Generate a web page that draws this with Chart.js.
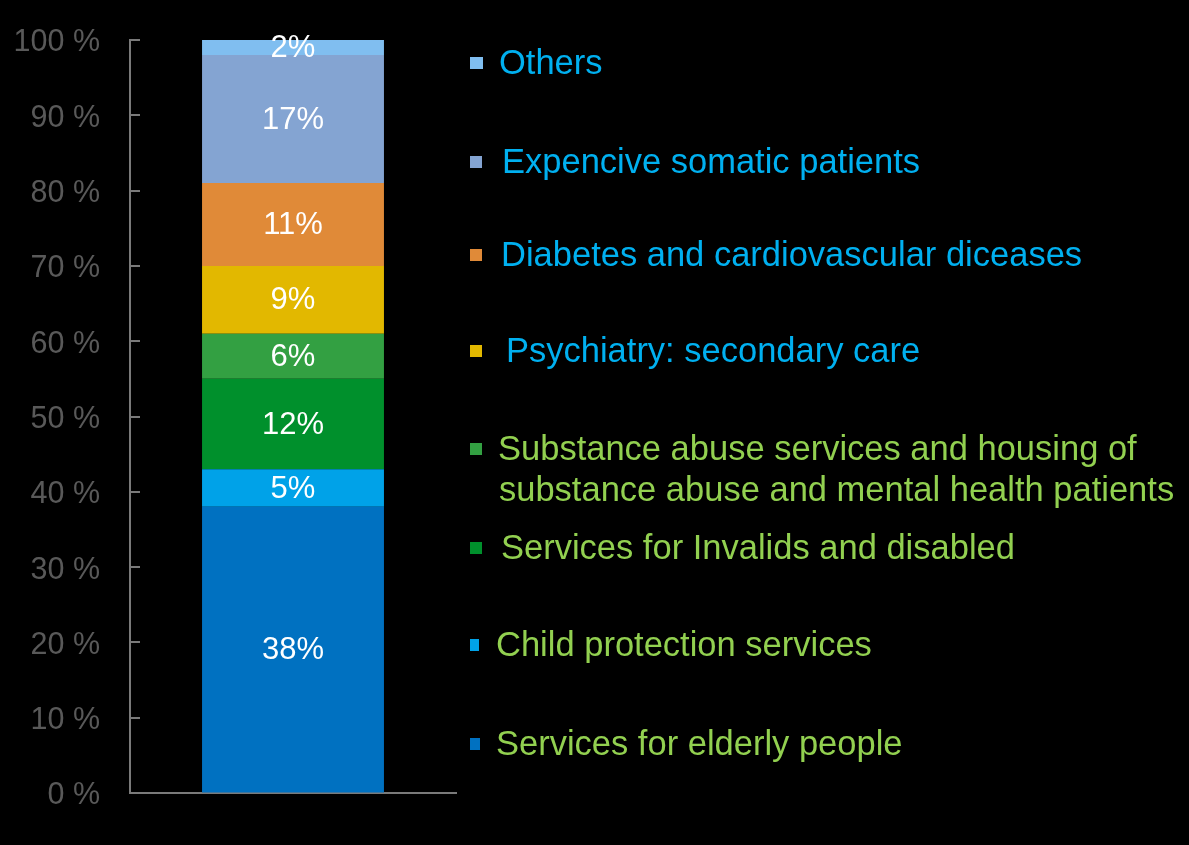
<!DOCTYPE html>
<html><head><meta charset="utf-8">
<script src="https://cdn.jsdelivr.net/npm/chart.js@4.4.0/dist/chart.umd.min.js"></script>
<style>html,body{margin:0;padding:0;background:#000;}#wrap{width:1189px;height:845px;position:relative}canvas{display:block}</style>
</head><body><div id="wrap"><canvas id="c" width="1189" height="845"></canvas></div>
<script>
// ---- data ----
const categories = [''];
const seriesLabels = [
  ['Services for elderly people'],
  ['Child protection services'],
  ['Services for Invalids and disabled'],
  ['Substance abuse services and housing of', 'substance abuse and mental health patients'],
  ['Psychiatry: secondary care'],
  ['Diabetes and cardiovascular diceases'],
  ['Expencive somatic patients'],
  ['Others']
];
const elderly = [38];
const childProtection = [5];
const invalids = [12];
const substanceAbuse = [6];
const psychiatry = [9];
const diabetes = [11];
const expensiveSomatic = [17];
const others = [2];
const yTickValues = [0, 10, 20, 30, 40, 50, 60, 70, 80, 90, 100];

// ---- styles ----
const seriesValues = [elderly, childProtection, invalids, substanceAbuse, psychiatry, diabetes, expensiveSomatic, others];
const seriesColors = ['#0071C1', '#00A2E8', '#00902C', '#33A042', '#E2B800', '#E08A38', '#84A4D2', '#80BEF0'];
const legendTextColors = ['#92D050', '#92D050', '#92D050', '#92D050', '#00B0F0', '#00B0F0', '#00B0F0', '#00B0F0'];
const legendLineY = [[744], [645], [548], [449, 490], [351], [255], [162], [63]];
const legendTextX = [496, 496, 501, 498, 506, 501, 502, 499];
const legendMarkerW = [10, 9, 12, 12, 12, 12, 12, 13];
const FONT = '"Liberation Sans", Arial, sans-serif';

const datasets = seriesValues.map((vals, i) => ({
  label: seriesLabels[i].join(' '),
  data: vals,
  backgroundColor: seriesColors[i],
  borderWidth: 0,
  barPercentage: 0.558,
  categoryPercentage: 1.0
}));

const valueLabels = {
  id: 'valueLabels',
  afterDatasetsDraw(chart) {
    const ctx = chart.ctx;
    ctx.save();
    ctx.font = '31px ' + FONT;
    ctx.fillStyle = '#ffffff';
    ctx.textAlign = 'center';
    ctx.textBaseline = 'middle';
    chart.data.datasets.forEach((ds, i) => {
      const meta = chart.getDatasetMeta(i);
      meta.data.forEach((el, j) => {
        const y = (el.y + el.base) / 2;
        ctx.fillText(ds.data[j] + '%', el.x, y + 1);
      });
    });
    ctx.restore();
  }
};

const innerTicks = {
  id: 'innerTicks',
  afterDraw(chart) {
    const ctx = chart.ctx;
    const ys = chart.scales.y;
    const left = chart.chartArea.left;
    ctx.save();
    ctx.strokeStyle = '#7a7a7a';
    ctx.lineWidth = 2;
    ys.ticks.forEach(t => {
      const y = Math.round(ys.getPixelForValue(t.value));
      ctx.beginPath();
      ctx.moveTo(left - 1, y);
      ctx.lineTo(left + 10, y);
      ctx.stroke();
    });
    ctx.restore();
  }
};

const sideLegend = {
  id: 'sideLegend',
  afterDraw(chart) {
    const ctx = chart.ctx;
    ctx.save();
    ctx.font = '34.5px ' + FONT;
    ctx.textAlign = 'left';
    ctx.textBaseline = 'middle';
    seriesLabels.forEach((lines, i) => {
      const ys = legendLineY[i];
      ctx.fillStyle = seriesColors[i];
      ctx.fillRect(470, ys[0] - 6, legendMarkerW[i], 12);
      ctx.fillStyle = legendTextColors[i];
      lines.forEach((line, k) => {
        ctx.fillText(line, legendTextX[i] + (k > 0 ? 1 : 0), ys[k] + 1);
      });
    });
    ctx.restore();
  }
};

new Chart(document.getElementById('c'), {
  type: 'bar',
  data: { labels: categories, datasets },
  options: {
    responsive: false,
    animation: false,
    devicePixelRatio: 1,
    layout: { padding: { left: 0, right: 733, top: 40, bottom: 52 } },
    plugins: { legend: { display: false }, tooltip: { enabled: false } },
    scales: {
      x: {
        stacked: true,
        grid: { display: false, drawTicks: false },
        border: { display: true, color: '#7a7a7a', width: 2 },
        ticks: { display: false }
      },
      y: {
        stacked: true,
        min: 0,
        max: 100,
        afterBuildTicks(scale) { scale.ticks = yTickValues.map(v => ({ value: v })); },
        afterFit(scale) { scale.width = 130; scale.paddingTop = 0; scale.paddingBottom = 0; },
        grid: { drawOnChartArea: false, drawTicks: false },
        border: { display: true, color: '#7a7a7a', width: 2 },
        ticks: {
          padding: 30,
          labelOffset: 3,
          color: '#595959',
          font: { family: FONT, size: 30.5 },
          callback: v => v + ' %'
        }
      }
    }
  },
  plugins: [valueLabels, innerTicks, sideLegend]
});
</script>
</body></html>
